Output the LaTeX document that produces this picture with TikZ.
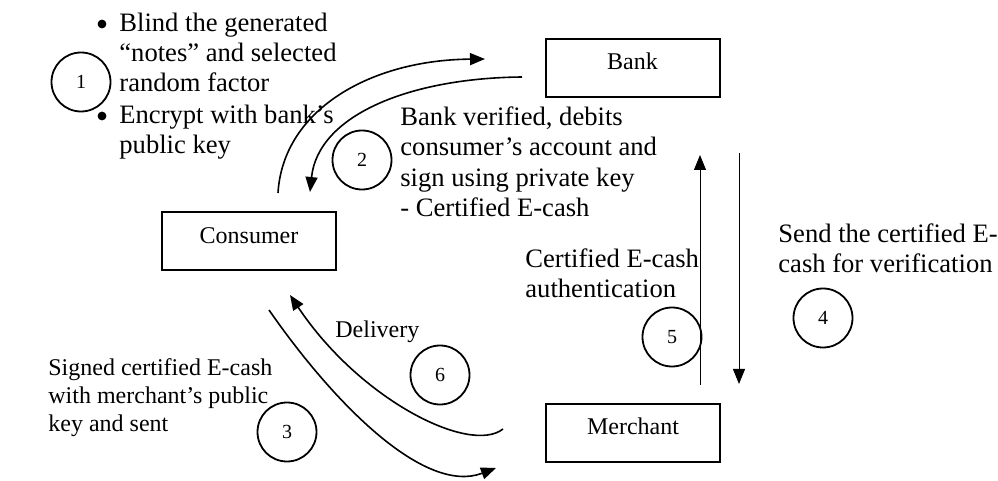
\documentclass[tikz,border=0pt]{standalone}
\usepackage{fontspec}
\setmainfont{Liberation Serif}
\usetikzlibrary{arrows.meta}
\begin{document}
\begin{tikzpicture}[x=0.5pt,y=-0.5pt,
  party/.style={draw, line width=1pt, minimum width=87pt, minimum height=29pt,
    inner sep=0pt, text height=6pt, text depth=4pt, font=\fontsize{12}{15}\selectfont},
  stepno/.style={draw, circle, line width=0.9pt, minimum size=29.5pt, inner sep=0pt,
    font=\fontsize{10}{12}\selectfont},
  bulletdot/.style={circle, fill, minimum size=4.4pt, inner sep=0pt},
  note/.style={anchor=base west, inner sep=0pt, align=left, font=\fontsize{13.3}{15}\selectfont},
  smallnote/.style={note, font=\fontsize{12}{14}\selectfont},
  flow/.style={line width=0.8pt, -{Triangle[length=7.5pt,width=6pt]}},
  vflow/.style={line width=0.5pt, -{Triangle[length=7.5pt,width=6pt]}}]
\useasboundingbox (0,0) rectangle (998,481);

% parties
\node[party] (bank) at (632.5,68) {Bank};
\node[party] (consumer) at (249,241.5) {Consumer};
\node[party] (merchant) at (633,433) {Merchant};

% step numbers
\node[stepno] (s1) at (81,82) {1};
\node[stepno] (s2) at (362,160) {2};
\node[stepno] (s3) at (287,432) {3};
\node[stepno] (s4) at (823,318) {4};
\node[stepno] (s5) at (672,337) {5};
\node[stepno] (s6) at (440,375) {6};

% descriptions (multi-line notes are placed by the baseline of their last line)
\node[bulletdot] (b1) at (102,24) {};
\node[note] (t1) at (119,92) {Blind the generated\\“notes” and selected\\random factor};
\node[bulletdot] (b2) at (102,116) {};
\node[note] (t2) at (119,154) {Encrypt with bank’s\\public key};
\node[note, font=\fontsize{13.3}{15.33}\selectfont] (t3) at (400,217) {Bank verified, debits\\consumer’s account and\\sign using private key\\- Certified E-cash};
\node[note] (t4) at (778,273) {Send the certified E-\\cash for verification};
\node[note] (t5) at (525,298) {Certified E-cash\\authentication};
\node[smallnote] (t6) at (335,338) {Delivery};
\node[smallnote] (t7) at (48,431) {Signed certified E-cash\\with merchant’s public\\key and sent};

% connector ends
\coordinate (c1a) at (278,193);
\coordinate (c1b) at (485,59);
\coordinate (c2a) at (522,77);
\coordinate (c2b) at (310,192);
\coordinate (c3a) at (269,310);
\coordinate (c3b) at (496,468);
\coordinate (c6a) at (503,429);
\coordinate (c6b) at (290,295);
\coordinate (c5a) at (700,385);
\coordinate (c5b) at (700,155);
\coordinate (c4a) at (739,153);
\coordinate (c4b) at (739,384);

% flows
\draw[flow] (c1a) .. controls (283,110) and (370,60) .. (c1b);
\draw[flow] (c2a) .. controls (410,78) and (318,115) .. (c2b);
\draw[flow] (c3a) .. controls (335,405) and (425,495) .. (c3b);
\draw[flow] (c6a) .. controls (470,455) and (360,400) .. (c6b);
\draw[vflow] (c5a) -- (c5b);
\draw[vflow] (c4a) -- (c4b);
\end{tikzpicture}
\end{document}
